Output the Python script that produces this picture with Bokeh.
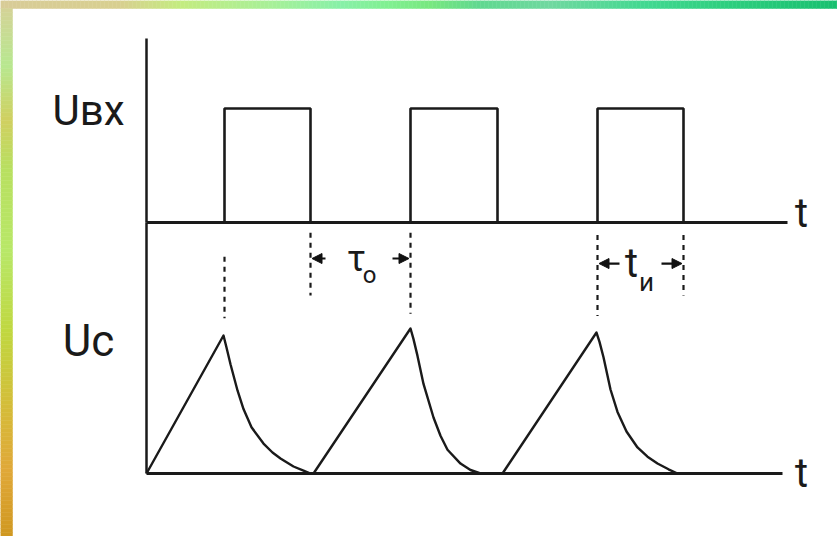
from bokeh.plotting import figure
from bokeh.models import Range1d, Label, Arrow, NormalHead
from bokeh.embed import file_html
from bokeh.resources import INLINE

# ---- data (time in arbitrary units, voltages normalised) ----
pulse_start = [7.8, 26.4, 45.1]
pulse_end = [16.4, 35.1, 53.7]
pulse_level = 1.0

uc_t = [0.0, 7.7, 8.0, 8.4, 9.1, 9.7, 10.5, 11.7, 12.6, 13.4, 14.7, 15.7, 16.4, 16.7,
        26.4, 26.7, 27.1, 27.7, 28.7, 29.4, 30.1, 31.4, 32.4, 33.4, 35.6,
        45.0, 45.3, 45.7, 46.4, 47.1, 48.0, 49.1, 50.1, 51.1, 52.2, 53.1]
uc_v = [0.0, 0.986, 0.90, 0.78, 0.593, 0.46, 0.33, 0.214, 0.15, 0.107, 0.05, 0.021, 0.0, 0.0,
        1.036, 0.96, 0.84, 0.64, 0.40, 0.27, 0.17, 0.071, 0.025, 0.0, 0.0,
        1.007, 0.94, 0.83, 0.60, 0.44, 0.30, 0.186, 0.12, 0.071, 0.03, 0.0]

t_axis_end_top = 64.1
t_axis_end_bottom = 63.6
uin_axis_top = 1.614

label_in = "Uвх"
label_c = "Uc"
label_t = "t"
label_gap = "τ"
label_gap_sub = "o"
label_width = "t"
label_width_sub = "и"

# decorative frame gradient stops (pixel position, colour)
top_stops = [(0, "#d8cc98"), (120, "#d8d090"), (180, "#c4ec80"), (270, "#a8f098"),
             (340, "#88f0a8"), (390, "#80f090"), (430, "#78e880"), (480, "#60d890"),
             (550, "#70d8a0"), (650, "#40d890"), (720, "#30d080"), (837, "#18c070")]
left_stops = [(0, "#d8d098"), (65, "#b8e890"), (120, "#d0d060"), (170, "#b8e060"),
              (250, "#b8e868"), (330, "#c0d840"), (420, "#d8b838"), (470, "#e0a838"),
              (536, "#d09820")]

FONT = "Roboto"
W, H = 837, 536
XPX = 10.0     # pixels per time unit
X0PX = 146.0   # pixel of time origin
YIN = 114.0    # pixels per Uin unit
YIN0 = 222.0
YC = 140.0
YC0 = 473.0

xr = Range1d(-X0PX / XPX, (W - X0PX) / XPX)
yr = Range1d(-(H - YIN0) / YIN, YIN0 / YIN)
p = figure(width=W, height=H, output_backend="svg", toolbar_location=None,
           x_axis_type=None, y_axis_type=None, x_range=xr, y_range=yr,
           min_border_left=0, min_border_right=0, min_border_top=0, min_border_bottom=0,
           background_fill_color="white", border_fill_color="white",
           outline_line_color=None)
p.grid.visible = False
p.extra_y_ranges = {"uc": Range1d(-(H - YC0) / YC, YC0 / YC)}


def hex2rgb(h):
    return tuple(int(h[i:i + 2], 16) for i in (1, 3, 5))


def colour_at(stops, pos):
    for (a, ca), (b, cb) in zip(stops[:-1], stops[1:]):
        if a <= pos <= b:
            f = (pos - a) / (b - a) if b > a else 0
            ra, rb = hex2rgb(ca), hex2rgb(cb)
            return "#%02x%02x%02x" % tuple(int(ra[i] + (rb[i] - ra[i]) * f) for i in range(3))
    return stops[-1][1]


# ---- decorative gradient frame ----
step = 4
L, R, T, B, C = [], [], [], [], []
for x in range(0, W, step):
    L.append(xr.start + x / XPX); R.append(xr.start + (x + step) / XPX)
    T.append(yr.end); B.append(yr.end - 8 / YIN)
    C.append(colour_at(top_stops, x + step / 2))
for y in range(8, H, step):
    L.append(xr.start); R.append(xr.start + 12 / XPX)
    T.append(yr.end - y / YIN); B.append(yr.end - (y + step) / YIN)
    C.append(colour_at(left_stops, y + step / 2))
p.quad(left=L, right=R, top=T, bottom=B, fill_color=C, line_color=C, line_width=0.5)

INK = "#1a1a1a"
# ---- axes drawn as lines ----
p.line([0, 0], [uin_axis_top, 0], line_color=INK, line_width=2.5)
p.line([0, t_axis_end_top], [0, 0], line_color=INK, line_width=3)
p.line([0, 0], [0, (YC0 - YIN0) / YC], line_color=INK, line_width=2.5, y_range_name="uc")
p.line([0, t_axis_end_bottom], [0, 0], line_color=INK, line_width=3, y_range_name="uc")

# ---- input pulses ----
px, py = [], []
for s, e in zip(pulse_start, pulse_end):
    px += [s, s, e, e, float("nan")]
    py += [0, pulse_level, pulse_level, 0, float("nan")]
p.line(px, py, line_color=INK, line_width=2.6)

# ---- capacitor voltage ----
p.line(uc_t, uc_v, line_color=INK, line_width=2.4, y_range_name="uc",
       line_join="round")

# ---- dashed projection lines ----
dash_x = [pulse_start[0], pulse_end[0], pulse_start[1], pulse_start[2], pulse_end[2]]
dash_y0 = [-0.30, -0.09, -0.09, -0.11, -0.11]
dash_y1 = [-0.84, -0.64, -0.80, -0.82, -0.64]
p.segment(x0=dash_x, y0=dash_y0, x1=dash_x, y1=dash_y1, line_color=INK,
          line_width=2.2, line_dash="5 5")


def arrow(x0, x1, y):
    p.add_layout(Arrow(end=NormalHead(size=10, fill_color="#111111", line_color="#111111"),
                       x_start=x0, y_start=y, x_end=x1, y_end=y,
                       line_color="#111111", line_width=2.2))


ya = -0.316
arrow(pulse_end[0] + 1.5, pulse_end[0] + 0.15, ya)
arrow(pulse_start[1] - 1.8, pulse_start[1] - 0.15, ya)
yb = -0.36
arrow(pulse_start[2] + 2.2, pulse_start[2] + 0.15, yb)
arrow(pulse_end[2] - 2.2, pulse_end[2] - 0.15, yb)


def lab(x, y, text, size, rng="default", align="center"):
    p.add_layout(Label(x=x, y=y, text=text, text_font=FONT, text_font_size=size,
                       text_color=INK, text_align=align, text_baseline="middle",
                       y_range_name=rng))


mid_gap = (pulse_end[0] + pulse_start[1]) / 2
lab(mid_gap - 0.4, -0.32, label_gap, "36px")
lab(mid_gap + 0.9, -0.46, label_gap_sub, "24px")
mid_w = (pulse_start[2] + pulse_end[2]) / 2
lab(mid_w - 0.9, -0.36, label_width, "40px")
lab(mid_w + 0.6, -0.52, label_width_sub, "26px")

lab(-5.8, 0.98, label_in, "42px")
lab(-5.8, 0.95, label_c, "44px", rng="uc")
lab(65.5, 0.08, label_t, "40px")
lab(65.5, 0.0, label_t, "40px", rng="uc")

open("out.html", "w").write(file_html(p, INLINE))
